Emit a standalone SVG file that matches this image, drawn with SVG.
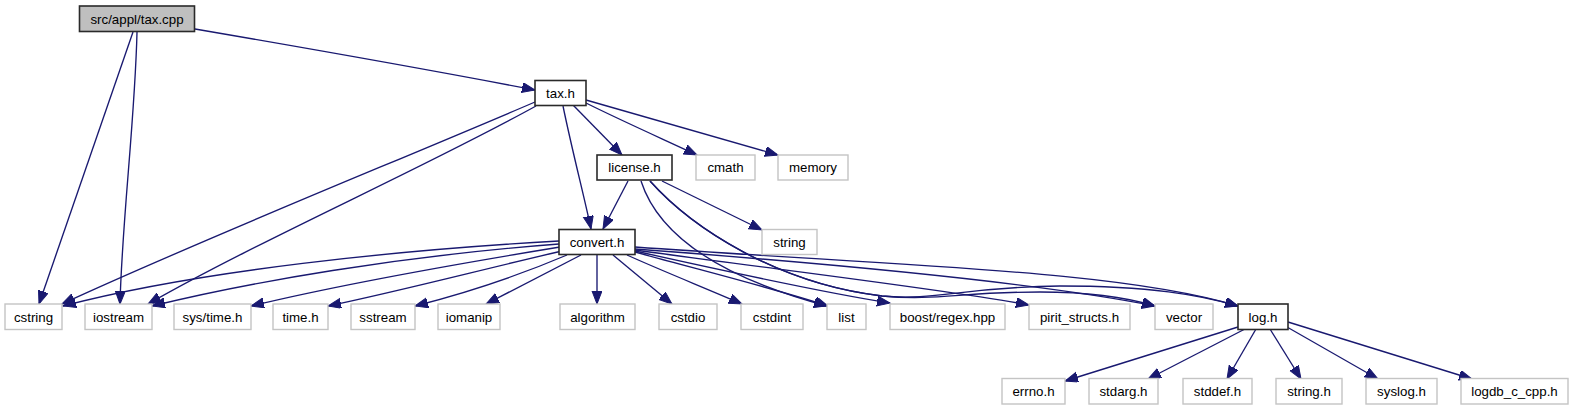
<svg xmlns="http://www.w3.org/2000/svg" width="1573" height="411" viewBox="0 0 1573 411">
<defs>
<marker id="ah" markerUnits="userSpaceOnUse" markerWidth="15" markerHeight="11" refX="13" refY="5" orient="auto">
<path d="M0,0 L13,5 L0,10 z" fill="#191970" stroke="#191970" stroke-width="1"/>
</marker>
<style>
.e{fill:none;stroke:#191970;stroke-width:1.35;marker-end:url(#ah)}
.d{fill:#fff;stroke:#2a2a2a;stroke-width:1.6}
.m{fill:#bfbfbf;stroke:#2a2a2a;stroke-width:1.6}
.u{fill:#fff;stroke:#c4c4c4;stroke-width:1.4}
text{font-family:"Liberation Sans",Arial,Helvetica,sans-serif;font-size:13.3px;fill:#000;text-anchor:middle}
</style>
</defs>
<rect width="1573" height="411" fill="#fff"/>
<g id="edges">
<path class="e" d="M195,29 C300,47 420,68 535,90"/>
<path class="e" d="M133,32 L39,304"/>
<path class="e" d="M137,32 C135,120 122,220 120,304"/>
<path class="e" d="M535,102 C400,160 200,240 62,304"/>
<path class="e" d="M536,106 C420,170 260,240 148,304"/>
<path class="e" d="M563,106 C572,150 585,200 591,229"/>
<path class="e" d="M573,105 L622,155"/>
<path class="e" d="M586,103 C620,120 665,140 697,155"/>
<path class="e" d="M586,100 L778,155"/>
<path class="e" d="M628,181 L603,229"/>
<path class="e" d="M662,181 L762,230"/>
<path class="e" d="M641,181 C660,240 730,280 827,306"/>
<path class="e" d="M650,181 C692,228 778,284 882,296 C937,301 960,292 1040,292 C1090,292 1125,297 1155,306"/>
<path class="e" d="M650,181 C692,228 778,284 882,296 C937,301 962,287 1060,286 C1150,286 1200,295 1238,306"/>
<path class="e" d="M559,241 C400,250 200,270 63,306"/>
<path class="e" d="M559,244 C400,256 250,282 152,306"/>
<path class="e" d="M560,247 C450,265 330,287 251,306"/>
<path class="e" d="M562,251 C480,270 400,291 328,306"/>
<path class="e" d="M567,255 C520,275 470,292 415,306"/>
<path class="e" d="M581,255 L486,304"/>
<path class="e" d="M597,255 L597,304"/>
<path class="e" d="M613,255 L672,304"/>
<path class="e" d="M627,255 C660,270 710,290 742,304"/>
<path class="e" d="M635,252 C700,270 780,290 828,306"/>
<path class="e" d="M635,251 C720,270 820,292 890,303"/>
<path class="e" d="M635,250 C780,270 950,290 1029,305"/>
<path class="e" d="M635,249 C850,265 1050,285 1155,306"/>
<path class="e" d="M635,247 C900,266 1120,270 1238,306"/>
<path class="e" d="M1238,327 L1065,381"/>
<path class="e" d="M1245,329 L1148,379"/>
<path class="e" d="M1256,329 L1227,379"/>
<path class="e" d="M1270,329 L1301,379"/>
<path class="e" d="M1287,327 L1378,379"/>
<path class="e" d="M1288,322 L1472,379"/>
</g>
<g id="n_taxcpp"><rect class="m" x="79.5" y="6" width="115" height="25.5"/><text x="137" y="23.5">src/appl/tax.cpp</text></g>
<g id="n_taxh"><rect class="d" x="535" y="80.5" width="51" height="25"/><text x="560.5" y="97.5">tax.h</text></g>
<g id="n_license"><rect class="d" x="597" y="155" width="75" height="25"/><text x="634.5" y="172">license.h</text></g>
<g id="n_cmath"><rect class="u" x="696" y="155" width="59" height="25"/><text x="725.5" y="172">cmath</text></g>
<g id="n_memory"><rect class="u" x="778" y="155" width="70" height="25"/><text x="813" y="172">memory</text></g>
<g id="n_convert"><rect class="d" x="559" y="229.5" width="76" height="25"/><text x="597" y="246.5">convert.h</text></g>
<g id="n_string"><rect class="u" x="762" y="229.5" width="55" height="25"/><text x="789.5" y="246.5">string</text></g>
<g id="n_cstring"><rect class="u" x="5" y="304" width="57" height="25.5"/><text x="33.5" y="321.5">cstring</text></g>
<g id="n_iostream"><rect class="u" x="85" y="304" width="67" height="25.5"/><text x="118.5" y="321.5">iostream</text></g>
<g id="n_systime"><rect class="u" x="174" y="304" width="77" height="25.5"/><text x="212.5" y="321.5">sys/time.h</text></g>
<g id="n_timeh"><rect class="u" x="273" y="304" width="55" height="25.5"/><text x="300.5" y="321.5">time.h</text></g>
<g id="n_sstream"><rect class="u" x="351" y="304" width="64" height="25.5"/><text x="383" y="321.5">sstream</text></g>
<g id="n_iomanip"><rect class="u" x="438" y="304" width="62" height="25.5"/><text x="469" y="321.5">iomanip</text></g>
<g id="n_algorithm"><rect class="u" x="560" y="304" width="75" height="25.5"/><text x="597.5" y="321.5">algorithm</text></g>
<g id="n_cstdio"><rect class="u" x="659" y="304" width="58" height="25.5"/><text x="688" y="321.5">cstdio</text></g>
<g id="n_cstdint"><rect class="u" x="741" y="304" width="62" height="25.5"/><text x="772" y="321.5">cstdint</text></g>
<g id="n_list"><rect class="u" x="827" y="304" width="39" height="25.5"/><text x="846.5" y="321.5">list</text></g>
<g id="n_boost"><rect class="u" x="890" y="304" width="115" height="25.5"/><text x="947.5" y="321.5">boost/regex.hpp</text></g>
<g id="n_pirit"><rect class="u" x="1029" y="304" width="101" height="25.5"/><text x="1079.5" y="321.5">pirit_structs.h</text></g>
<g id="n_vector"><rect class="u" x="1155" y="304" width="58" height="25.5"/><text x="1184" y="321.5">vector</text></g>
<g id="n_logh"><rect class="d" x="1238" y="304" width="50" height="25.5"/><text x="1263" y="321.5">log.h</text></g>
<g id="n_errno"><rect class="u" x="1002" y="378.5" width="63" height="25.5"/><text x="1033.5" y="396">errno.h</text></g>
<g id="n_stdarg"><rect class="u" x="1089" y="378.5" width="69" height="25.5"/><text x="1123.5" y="396">stdarg.h</text></g>
<g id="n_stddef"><rect class="u" x="1183" y="378.5" width="69" height="25.5"/><text x="1217.5" y="396">stddef.h</text></g>
<g id="n_stringh"><rect class="u" x="1276" y="378.5" width="66" height="25.5"/><text x="1309" y="396">string.h</text></g>
<g id="n_syslog"><rect class="u" x="1366" y="378.5" width="71" height="25.5"/><text x="1401.5" y="396">syslog.h</text></g>
<g id="n_logdb"><rect class="u" x="1461" y="378.5" width="107" height="25.5"/><text x="1514.5" y="396">logdb_c_cpp.h</text></g>
</svg>
